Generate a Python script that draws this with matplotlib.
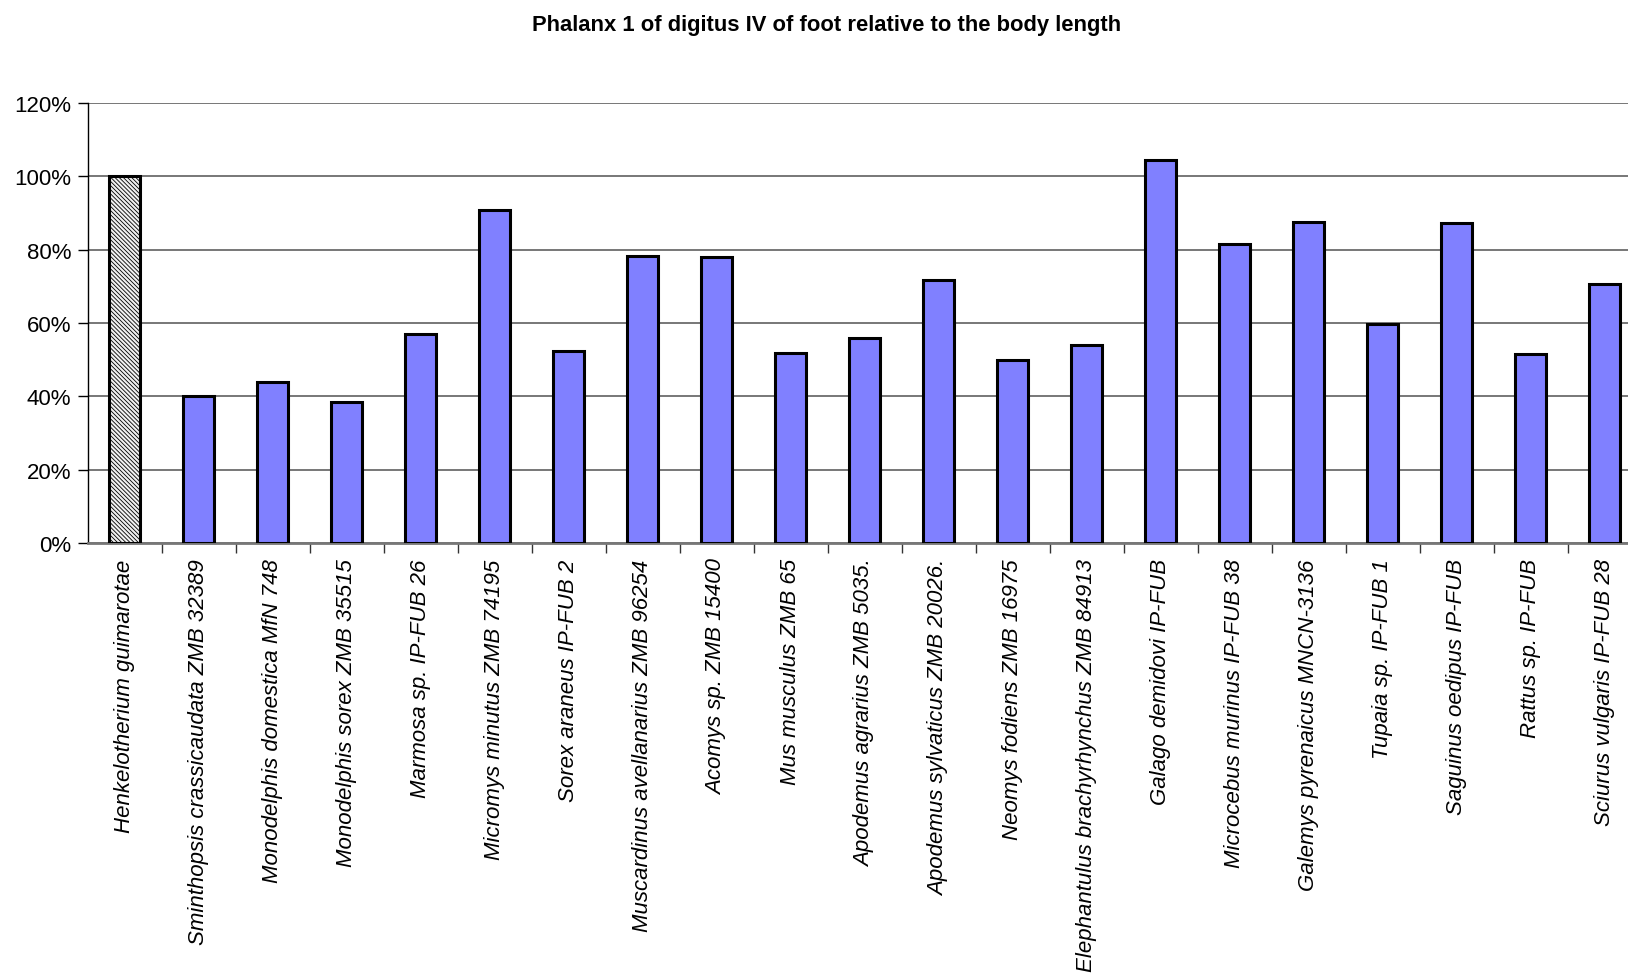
import numpy as np
import matplotlib.pyplot as plt
from matplotlib.ticker import FuncFormatter, FixedLocator

plt.rcParams["font.family"] = ["Liberation Sans", "DejaVu Sans"]
plt.rcParams["hatch.color"] = "#b0b0b0"
plt.rcParams["hatch.linewidth"] = 0.6

species = [
    "Henkelotherium guimarotae",
    "Sminthopsis crassicaudata ZMB 32389",
    "Monodelphis domestica MfN 748",
    "Monodelphis sorex ZMB 35515",
    "Marmosa sp. IP-FUB 26",
    "Micromys minutus ZMB 74195",
    "Sorex araneus IP-FUB 2",
    "Muscardinus avellanarius ZMB 96254",
    "Acomys sp. ZMB 15400",
    "Mus musculus ZMB 65",
    "Apodemus agrarius ZMB 5035.",
    "Apodemus sylvaticus ZMB 20026.",
    "Neomys fodiens ZMB 16975",
    "Elephantulus brachyrhynchus ZMB 84913",
    "Galago demidovi IP-FUB",
    "Microcebus murinus IP-FUB 38",
    "Galemys pyrenaicus MNCN-3136",
    "Tupaia sp. IP-FUB 1",
    "Saguinus oedipus IP-FUB",
    "Rattus sp. IP-FUB",
    "Sciurus vulgaris IP-FUB 28",
]
# phalanx length as a fraction of body length
ratio = [1.00, 0.40, 0.44, 0.385, 0.569, 0.909, 0.524, 0.784, 0.781, 0.518,
         0.560, 0.716, 0.498, 0.541, 1.045, 0.815, 0.875, 0.597, 0.872,
         0.515, 0.707]

BLUE = "#8080ff"

fig = plt.figure(figsize=(16.28, 9.79), dpi=100, facecolor="white")
# axis runs a little past the right edge of the sheet
ax = fig.add_axes([87.7 / 1628, 435 / 979, 1554 / 1628, 440 / 979])

x = np.arange(len(species))
colors = ["#f0f0f0"] + [BLUE] * (len(species) - 1)
bars = ax.bar(x, ratio, width=0.42, color=colors, edgecolor="black",
              linewidth=2.2, zorder=3)
bars[0].set_hatch("\\\\\\\\\\\\\\\\")

ax.set_xlim(-0.5, len(species) - 0.5)
ax.set_ylim(0, 1.2)
ax.set_yticks(np.arange(0, 1.21, 0.2))
ax.yaxis.set_major_formatter(FuncFormatter(lambda v, _: f"{v * 100:.0f}%"))
ax.yaxis.grid(True, color="#606060", linewidth=1.2, zorder=0)

ax.set_xticks(x)
ax.set_xticklabels(species, rotation=90, fontstyle="italic", fontsize=16)
ax.xaxis.set_minor_locator(FixedLocator(np.arange(0.5, len(species), 1.0)))
ax.tick_params(axis="x", which="major", length=0, pad=11)
ax.tick_params(axis="x", which="minor", length=7, width=1, color="#333333")
ax.tick_params(axis="y", length=7, width=1, labelsize=16, pad=5)

for s in ["top", "right"]:
    ax.spines[s].set_visible(False)
ax.spines["left"].set_color("black")
ax.spines["left"].set_linewidth(1)
ax.spines["bottom"].set_color("#777777")
ax.spines["bottom"].set_linewidth(2)

fig.text(0.5077, 1 - 25 / 979, "Phalanx 1 of digitus IV of foot relative to the body length",
         ha="center", va="center", fontsize=15.8, fontweight="bold")

fig.savefig("out.png", dpi=100)
